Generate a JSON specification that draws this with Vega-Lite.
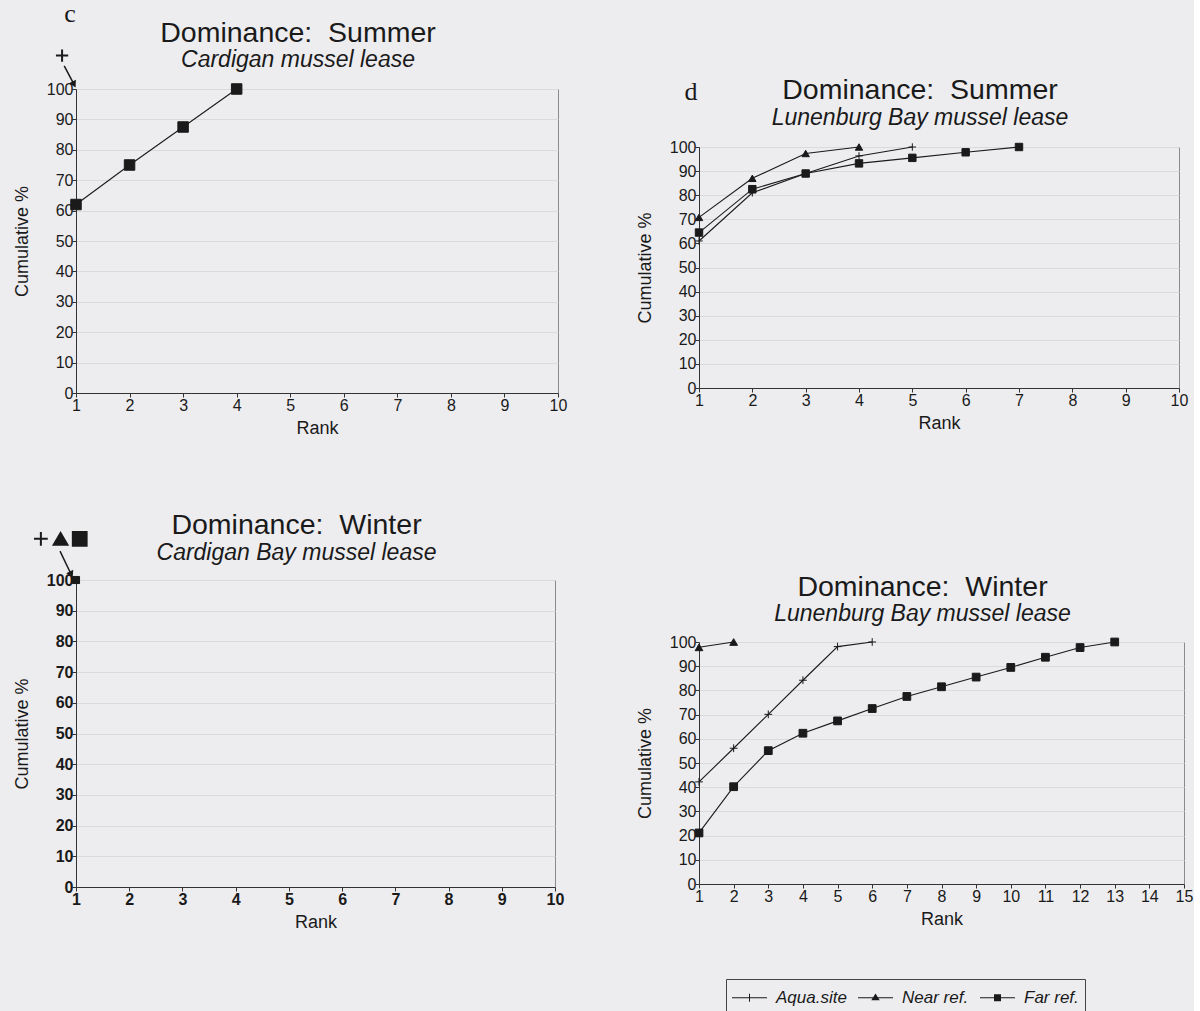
{
  "$schema": "https://vega.github.io/schema/vega-lite/v6.json",
  "background": "#ededf0",
  "padding": {"left": 12, "top": 0, "right": 0, "bottom": 0},
  "datasets": {
    "pts": [
      {"panel": "TL", "series": "Aqua.site", "rank": 1, "pct": 100},
      {"panel": "TL", "series": "Far ref.", "rank": 1, "pct": 62},
      {"panel": "TL", "series": "Far ref.", "rank": 2, "pct": 75},
      {"panel": "TL", "series": "Far ref.", "rank": 3, "pct": 87.5},
      {"panel": "TL", "series": "Far ref.", "rank": 4, "pct": 100},
      {"panel": "BL", "series": "Aqua.site", "rank": 1, "pct": 100},
      {"panel": "BL", "series": "Near ref.", "rank": 1, "pct": 100},
      {"panel": "BL", "series": "Far ref.", "rank": 1, "pct": 100},
      {"panel": "TR", "series": "Aqua.site", "rank": 1, "pct": 61},
      {"panel": "TR", "series": "Aqua.site", "rank": 2, "pct": 81},
      {"panel": "TR", "series": "Aqua.site", "rank": 3, "pct": 89},
      {"panel": "TR", "series": "Aqua.site", "rank": 4, "pct": 96.3},
      {"panel": "TR", "series": "Aqua.site", "rank": 5, "pct": 100},
      {"panel": "TR", "series": "Near ref.", "rank": 1, "pct": 70.8},
      {"panel": "TR", "series": "Near ref.", "rank": 2, "pct": 87},
      {"panel": "TR", "series": "Near ref.", "rank": 3, "pct": 97.3},
      {"panel": "TR", "series": "Near ref.", "rank": 4, "pct": 100},
      {"panel": "TR", "series": "Far ref.", "rank": 1, "pct": 64.5},
      {"panel": "TR", "series": "Far ref.", "rank": 2, "pct": 82.5},
      {"panel": "TR", "series": "Far ref.", "rank": 3, "pct": 89},
      {"panel": "TR", "series": "Far ref.", "rank": 4, "pct": 93.2},
      {"panel": "TR", "series": "Far ref.", "rank": 5, "pct": 95.5},
      {"panel": "TR", "series": "Far ref.", "rank": 6, "pct": 97.8},
      {"panel": "TR", "series": "Far ref.", "rank": 7, "pct": 100},
      {"panel": "BR", "series": "Aqua.site", "rank": 1, "pct": 42.2},
      {"panel": "BR", "series": "Aqua.site", "rank": 2, "pct": 56.1},
      {"panel": "BR", "series": "Aqua.site", "rank": 3, "pct": 70.1},
      {"panel": "BR", "series": "Aqua.site", "rank": 4, "pct": 84.2},
      {"panel": "BR", "series": "Aqua.site", "rank": 5, "pct": 98.1},
      {"panel": "BR", "series": "Aqua.site", "rank": 6, "pct": 100},
      {"panel": "BR", "series": "Near ref.", "rank": 1, "pct": 97.8},
      {"panel": "BR", "series": "Near ref.", "rank": 2, "pct": 100},
      {"panel": "BR", "series": "Far ref.", "rank": 1, "pct": 21.1},
      {"panel": "BR", "series": "Far ref.", "rank": 2, "pct": 40.2},
      {"panel": "BR", "series": "Far ref.", "rank": 3, "pct": 55.1},
      {"panel": "BR", "series": "Far ref.", "rank": 4, "pct": 62.3},
      {"panel": "BR", "series": "Far ref.", "rank": 5, "pct": 67.4},
      {"panel": "BR", "series": "Far ref.", "rank": 6, "pct": 72.5},
      {"panel": "BR", "series": "Far ref.", "rank": 7, "pct": 77.5},
      {"panel": "BR", "series": "Far ref.", "rank": 8, "pct": 81.5},
      {"panel": "BR", "series": "Far ref.", "rank": 9, "pct": 85.5},
      {"panel": "BR", "series": "Far ref.", "rank": 10, "pct": 89.5},
      {"panel": "BR", "series": "Far ref.", "rank": 11, "pct": 93.7},
      {"panel": "BR", "series": "Far ref.", "rank": 12, "pct": 97.7},
      {"panel": "BR", "series": "Far ref.", "rank": 13, "pct": 100}
    ],
    "ann": [
      {"panel": "TL", "kind": "label", "rank": 0.89, "pct": 122, "text": "c"},
      {"panel": "TL", "kind": "marker", "series": "Aqua.site", "rank": 0.74, "pct": 111},
      {"panel": "TL", "kind": "arrow", "rank": 0.78, "pct": 107.6, "rank2": 0.963, "pct2": 101.5},
      {"panel": "TR", "kind": "label", "rank": 0.85, "pct": 118.7, "text": "d"},
      {"panel": "BL", "kind": "marker", "series": "Aqua.site", "rank": 0.34, "pct": 113.4},
      {"panel": "BL", "kind": "marker", "series": "Near ref.", "rank": 0.71, "pct": 113.4},
      {"panel": "BL", "kind": "marker", "series": "Far ref.", "rank": 1.07, "pct": 113.4},
      {"panel": "BL", "kind": "arrow", "rank": 0.70, "pct": 109.4, "rank2": 0.91, "pct2": 101.8}
    ]
  },
  "spacing": 67,
  "resolve": {"scale": {"shape": "independent"}, "legend": {"shape": "independent"}},
  "hconcat": [
    {
      "spacing": 72,
      "resolve": {"scale": {"shape": "independent"}, "legend": {"shape": "independent"}},
      "vconcat": [
        {
          "width": 482, "height": 304,
          "title": {"text": "Dominance:\u00a0 Summer", "subtitle": "Cardigan mussel lease", "offset": -71},
          "layer": [
            {
              "data": {"name": "pts"}, "transform": [{"filter": "datum.panel === 'TL'"}],
              "mark": {"type": "line", "color": "#1a1a1a"},
              "encoding": {
                "x": {"field": "rank", "type": "quantitative", "title": "Rank", "scale": {"domain": [1, 10], "nice": false, "zero": false}, "axis": {"values": [1,2,3,4,5,6,7,8,9,10], "format": "d"}},
                "y": {"field": "pct", "type": "quantitative", "title": "Cumulative %", "scale": {"domain": [0, 100], "nice": false}, "axis": {"values": [0,10,20,30,40,50,60,70,80,90,100], "format": "d"}},
                "detail": {"field": "series"}, "order": {"field": "rank"},
                "strokeWidth": {"field": "series", "type": "nominal", "scale": {"domain": ["Aqua.site", "Near ref.", "Far ref."], "range": [1.1, 1.1, 1.5]}, "legend": null}
              }
            },
            {
              "data": {"name": "pts"}, "transform": [{"filter": "datum.panel === 'TL' && datum.series === 'Far ref.'"}],
              "mark": {"type": "point", "filled": true, "fill": "#1a1a1a", "stroke": "#1a1a1a", "strokeWidth": 1, "size": 110, "opacity": 1},
              "encoding": {
                "x": {"field": "rank", "type": "quantitative", "title": "Rank", "scale": {"domain": [1, 10], "nice": false, "zero": false}, "axis": {"values": [1,2,3,4,5,6,7,8,9,10], "format": "d"}},
                "y": {"field": "pct", "type": "quantitative", "title": "Cumulative %", "scale": {"domain": [0, 100], "nice": false}, "axis": {"values": [0,10,20,30,40,50,60,70,80,90,100], "format": "d"}},
                "shape": {"field": "series", "type": "nominal", "scale": {"domain": ["Aqua.site", "Near ref.", "Far ref."], "range": ["M-1,0H1M0,-1V1", "triangle-up", "square"]}, "legend": null}
              }
            },
            {
              "data": {"name": "ann"}, "transform": [{"filter": "datum.panel === 'TL' && datum.kind === 'marker'"}],
              "mark": {"type": "point", "filled": true, "fill": "#1a1a1a", "stroke": "#1a1a1a", "strokeWidth": 2, "size": 150, "opacity": 1},
              "encoding": {
                "x": {"field": "rank", "type": "quantitative", "title": "Rank", "scale": {"domain": [1, 10], "nice": false, "zero": false}, "axis": {"values": [1,2,3,4,5,6,7,8,9,10], "format": "d"}},
                "y": {"field": "pct", "type": "quantitative", "title": "Cumulative %", "scale": {"domain": [0, 100], "nice": false}, "axis": {"values": [0,10,20,30,40,50,60,70,80,90,100], "format": "d"}},
                "shape": {"field": "series", "type": "nominal", "legend": null}
              }
            },
            {
              "data": {"name": "ann"}, "transform": [{"filter": "datum.panel === 'TL' && datum.kind === 'arrow'"}],
              "mark": {"type": "rule", "color": "#1a1a1a", "strokeWidth": 1.5},
              "encoding": {
                "x": {"field": "rank", "type": "quantitative", "title": "Rank", "scale": {"domain": [1, 10], "nice": false, "zero": false}, "axis": {"values": [1,2,3,4,5,6,7,8,9,10], "format": "d"}},
                "y": {"field": "pct", "type": "quantitative", "title": "Cumulative %", "scale": {"domain": [0, 100], "nice": false}, "axis": {"values": [0,10,20,30,40,50,60,70,80,90,100], "format": "d"}},
                "x2": {"field": "rank2"}, "y2": {"field": "pct2"}
              }
            },
            {
              "data": {"name": "ann"}, "transform": [{"filter": "datum.panel === 'TL' && datum.kind === 'arrow'"}],
              "mark": {"type": "point", "shape": "triangle-down", "angle": -28, "filled": true, "color": "#1a1a1a", "size": 60, "opacity": 1},
              "encoding": {
                "x": {"field": "rank2", "type": "quantitative", "title": "Rank", "scale": {"domain": [1, 10], "nice": false, "zero": false}, "axis": {"values": [1,2,3,4,5,6,7,8,9,10], "format": "d"}},
                "y": {"field": "pct2", "type": "quantitative", "title": "Cumulative %", "scale": {"domain": [0, 100], "nice": false}, "axis": {"values": [0,10,20,30,40,50,60,70,80,90,100], "format": "d"}}
              }
            },
            {
              "data": {"name": "ann"}, "transform": [{"filter": "datum.panel === 'TL' && datum.kind === 'label'"}],
              "mark": {"type": "text", "font": "Liberation Serif", "fontSize": 26, "color": "#1a1a1a", "align": "center", "baseline": "alphabetic"},
              "encoding": {
                "x": {"field": "rank", "type": "quantitative", "title": "Rank", "scale": {"domain": [1, 10], "nice": false, "zero": false}, "axis": {"values": [1,2,3,4,5,6,7,8,9,10], "format": "d"}},
                "y": {"field": "pct", "type": "quantitative", "title": "Cumulative %", "scale": {"domain": [0, 100], "nice": false}, "axis": {"values": [0,10,20,30,40,50,60,70,80,90,100], "format": "d"}},
                "text": {"field": "text"}
              }
            }
          ]
        },
        {
          "width": 479, "height": 307,
          "title": {"text": "Dominance:\u00a0 Winter", "subtitle": "Cardigan Bay mussel lease", "offset": -37},
          "layer": [
            {
              "data": {"name": "pts"}, "transform": [{"filter": "datum.panel === 'BL'"}],
              "mark": {"type": "point", "filled": true, "fill": "#1a1a1a", "stroke": "#1a1a1a", "strokeWidth": 1, "size": 50, "opacity": 1},
              "encoding": {
                "x": {"field": "rank", "type": "quantitative", "title": "Rank", "scale": {"domain": [1, 10], "nice": false, "zero": false}, "axis": {"values": [1,2,3,4,5,6,7,8,9,10], "format": "d", "labelFontWeight": "bold"}},
                "y": {"field": "pct", "type": "quantitative", "title": "Cumulative %", "scale": {"domain": [0, 100], "nice": false}, "axis": {"values": [0,10,20,30,40,50,60,70,80,90,100], "format": "d", "labelFontWeight": "bold"}},
                "shape": {"field": "series", "type": "nominal", "scale": {"domain": ["Aqua.site", "Near ref.", "Far ref."], "range": ["M-1,0H1M0,-1V1", "triangle-up", "square"]}, "legend": null}
              }
            },
            {
              "data": {"name": "ann"}, "transform": [{"filter": "datum.panel === 'BL' && datum.kind === 'marker'"}],
              "mark": {"type": "point", "filled": true, "fill": "#1a1a1a", "stroke": "#1a1a1a", "strokeWidth": 2, "size": 190, "opacity": 1},
              "encoding": {
                "x": {"field": "rank", "type": "quantitative", "title": "Rank", "scale": {"domain": [1, 10], "nice": false, "zero": false}, "axis": {"values": [1,2,3,4,5,6,7,8,9,10], "format": "d", "labelFontWeight": "bold"}},
                "y": {"field": "pct", "type": "quantitative", "title": "Cumulative %", "scale": {"domain": [0, 100], "nice": false}, "axis": {"values": [0,10,20,30,40,50,60,70,80,90,100], "format": "d", "labelFontWeight": "bold"}},
                "shape": {"field": "series", "type": "nominal", "legend": null}
              }
            },
            {
              "data": {"name": "ann"}, "transform": [{"filter": "datum.panel === 'BL' && datum.kind === 'arrow'"}],
              "mark": {"type": "rule", "color": "#1a1a1a", "strokeWidth": 1.5},
              "encoding": {
                "x": {"field": "rank", "type": "quantitative", "title": "Rank", "scale": {"domain": [1, 10], "nice": false, "zero": false}, "axis": {"values": [1,2,3,4,5,6,7,8,9,10], "format": "d", "labelFontWeight": "bold"}},
                "y": {"field": "pct", "type": "quantitative", "title": "Cumulative %", "scale": {"domain": [0, 100], "nice": false}, "axis": {"values": [0,10,20,30,40,50,60,70,80,90,100], "format": "d", "labelFontWeight": "bold"}},
                "x2": {"field": "rank2"}, "y2": {"field": "pct2"}
              }
            },
            {
              "data": {"name": "ann"}, "transform": [{"filter": "datum.panel === 'BL' && datum.kind === 'arrow'"}],
              "mark": {"type": "point", "shape": "triangle-down", "angle": -26, "filled": true, "color": "#1a1a1a", "size": 60, "opacity": 1},
              "encoding": {
                "x": {"field": "rank2", "type": "quantitative", "title": "Rank", "scale": {"domain": [1, 10], "nice": false, "zero": false}, "axis": {"values": [1,2,3,4,5,6,7,8,9,10], "format": "d", "labelFontWeight": "bold"}},
                "y": {"field": "pct2", "type": "quantitative", "title": "Cumulative %", "scale": {"domain": [0, 100], "nice": false}, "axis": {"values": [0,10,20,30,40,50,60,70,80,90,100], "format": "d", "labelFontWeight": "bold"}}
              }
            }
          ]
        }
      ]
    },
    {
      "spacing": 139,
      "resolve": {"scale": {"shape": "independent"}, "legend": {"shape": "independent"}},
      "vconcat": [
        {
          "spacing": 8,
          "vconcat": [
            {
              "width": 480, "height": 37,
              "view": {"stroke": null},
              "title": {"text": "Dominance:\u00a0 Summer", "subtitle": "Lunenburg Bay mussel lease", "offset": -51},
              "data": {"name": "ann"}, "transform": [{"filter": "datum.panel === 'TR' && datum.kind === 'label'"}],
              "mark": {"type": "text", "font": "Liberation Serif", "fontSize": 26, "color": "#1a1a1a", "align": "center", "baseline": "alphabetic"},
              "encoding": {
                "x": {"field": "rank", "type": "quantitative", "scale": {"domain": [1, 10], "nice": false, "zero": false}, "axis": null},
                "y": {"field": "pct", "type": "quantitative", "scale": {"domain": [107.9, 123.2], "nice": false, "zero": false}, "axis": null},
                "text": {"field": "text"}
              }
            },
            {
              "width": 480, "height": 241,
              "layer": [
                {
                  "data": {"name": "pts"}, "transform": [{"filter": "datum.panel === 'TR'"}],
                  "mark": {"type": "line", "color": "#1a1a1a"},
                  "encoding": {
                    "x": {"field": "rank", "type": "quantitative", "title": "Rank", "scale": {"domain": [1, 10], "nice": false, "zero": false}, "axis": {"values": [1,2,3,4,5,6,7,8,9,10], "format": "d"}},
                    "y": {"field": "pct", "type": "quantitative", "title": "Cumulative %", "scale": {"domain": [0, 100], "nice": false}, "axis": {"values": [0,10,20,30,40,50,60,70,80,90,100], "format": "d"}},
                    "detail": {"field": "series"}, "order": {"field": "rank"},
                    "strokeWidth": {"field": "series", "type": "nominal", "scale": {"domain": ["Aqua.site", "Near ref.", "Far ref."], "range": [1.1, 1.1, 1.7]}, "legend": null}
                  }
                },
                {
                  "data": {"name": "pts"}, "transform": [{"filter": "datum.panel === 'TR'"}],
                  "mark": {"type": "point", "filled": true, "fill": "#1a1a1a", "stroke": "#1a1a1a", "strokeWidth": 1, "size": 55, "opacity": 1},
                  "encoding": {
                    "x": {"field": "rank", "type": "quantitative", "title": "Rank", "scale": {"domain": [1, 10], "nice": false, "zero": false}, "axis": {"values": [1,2,3,4,5,6,7,8,9,10], "format": "d"}},
                    "y": {"field": "pct", "type": "quantitative", "title": "Cumulative %", "scale": {"domain": [0, 100], "nice": false}, "axis": {"values": [0,10,20,30,40,50,60,70,80,90,100], "format": "d"}},
                    "shape": {"field": "series", "type": "nominal", "scale": {"domain": ["Aqua.site", "Near ref.", "Far ref."], "range": ["M-1,0H1M0,-1V1", "triangle-up", "square"]}, "legend": null}
                  }
                }
              ]
            }
          ]
        },
        {
          "width": 485, "height": 242,
          "title": {"text": "Dominance:\u00a0 Winter", "subtitle": "Lunenburg Bay mussel lease", "offset": 8},
          "resolve": {"scale": {"shape": "independent"}, "legend": {"shape": "independent"}},
          "layer": [
            {
              "data": {"name": "pts"}, "transform": [{"filter": "datum.panel === 'BR'"}],
              "mark": {"type": "line", "color": "#1a1a1a"},
              "encoding": {
                "x": {"field": "rank", "type": "quantitative", "title": "Rank", "scale": {"domain": [1, 15], "nice": false, "zero": false}, "axis": {"values": [1,2,3,4,5,6,7,8,9,10,11,12,13,14,15], "format": "d"}},
                "y": {"field": "pct", "type": "quantitative", "title": "Cumulative %", "scale": {"domain": [0, 100], "nice": false}, "axis": {"values": [0,10,20,30,40,50,60,70,80,90,100], "format": "d"}},
                "detail": {"field": "series"}, "order": {"field": "rank"},
                "strokeWidth": {"field": "series", "type": "nominal", "scale": {"domain": ["Aqua.site", "Near ref.", "Far ref."], "range": [1.1, 1.1, 1.7]}, "legend": null}
              }
            },
            {
              "data": {"name": "pts"}, "transform": [{"filter": "datum.panel === 'BR'"}],
              "mark": {"type": "point", "filled": true, "fill": "#1a1a1a", "stroke": "#1a1a1a", "strokeWidth": 1, "size": 60, "opacity": 1},
              "encoding": {
                "x": {"field": "rank", "type": "quantitative", "title": "Rank", "scale": {"domain": [1, 15], "nice": false, "zero": false}, "axis": {"values": [1,2,3,4,5,6,7,8,9,10,11,12,13,14,15], "format": "d"}},
                "y": {"field": "pct", "type": "quantitative", "title": "Cumulative %", "scale": {"domain": [0, 100], "nice": false}, "axis": {"values": [0,10,20,30,40,50,60,70,80,90,100], "format": "d"}},
                "shape": {"field": "series", "type": "nominal", "scale": {"domain": ["Aqua.site", "Near ref.", "Far ref."], "range": ["M-1,0H1M0,-1V1", "triangle-up", "square"]}, "legend": null}
              }
            },
            {
              "data": {"name": "pts"}, "transform": [{"filter": "datum.panel === 'BR'"}],
              "mark": {"type": "point", "filled": true, "color": "#1a1a1a", "opacity": 0},
              "encoding": {
                "x": {"field": "rank", "type": "quantitative", "title": "Rank", "scale": {"domain": [1, 15], "nice": false, "zero": false}, "axis": {"values": [1,2,3,4,5,6,7,8,9,10,11,12,13,14,15], "format": "d"}},
                "y": {"field": "pct", "type": "quantitative", "title": "Cumulative %", "scale": {"domain": [0, 100], "nice": false}, "axis": {"values": [0,10,20,30,40,50,60,70,80,90,100], "format": "d"}},
                "shape": {
                  "field": "series", "type": "nominal",
                  "scale": {"domain": ["Aqua.site", "Near ref.", "Far ref."], "range": [
                    "M-1,-0.04H1.8V0.04H-1ZM0.36,-0.32H0.44V0.32H0.36Z",
                    "M-1,-0.04H1.8V0.04H-1ZM0.06,0.2L0.4,-0.34L0.74,0.2Z",
                    "M-1,-0.04H1.8V0.04H-1ZM0.12,-0.28H0.68V0.28H0.12Z"
                  ]},
                  "legend": {
                    "orient": "none", "legendX": 27, "legendY": 337, "direction": "horizontal", "title": null,
                    "symbolSize": 625, "symbolStrokeWidth": 0, "symbolFillColor": "#1a1a1a", "symbolOpacity": 1,
                    "labelFont": "Liberation Sans", "labelFontSize": 17, "labelFontStyle": "italic", "labelColor": "#1a1a1a", "labelOffset": 19,
                    "columnPadding": 11, "padding": 6, "strokeColor": "#444"
                  }
                }
              }
            }
          ]
        }
      ]
    }
  ],
  "config": {
    "font": "Liberation Sans",
    "view": {"stroke": "#8a8a8a", "strokeWidth": 1},
    "title": {"font": "Liberation Sans", "fontSize": 28.5, "fontWeight": "normal", "color": "#1a1a1a", "lineHeight": 29,
              "subtitleFont": "Liberation Sans", "subtitleFontSize": 23, "subtitleFontStyle": "italic", "subtitleColor": "#1a1a1a",
              "subtitlePadding": 2, "anchor": "middle", "dx": -19},
    "axis": {"labelFont": "Liberation Sans", "labelFontSize": 16, "labelColor": "#1a1a1a", "titleFont": "Liberation Sans",
             "titleFontSize": 18, "titleFontWeight": "normal", "titleColor": "#1a1a1a", "domainColor": "#333333", "tickColor": "#333333",
             "tickSize": 4, "gridColor": "#d9d9de", "labelFlush": false},
    "axisX": {"grid": false, "labelAngle": 0, "titlePadding": 6, "labelPadding": 0},
    "axisY": {"grid": true, "titlePadding": 15, "labelPadding": -1}
  }
}
